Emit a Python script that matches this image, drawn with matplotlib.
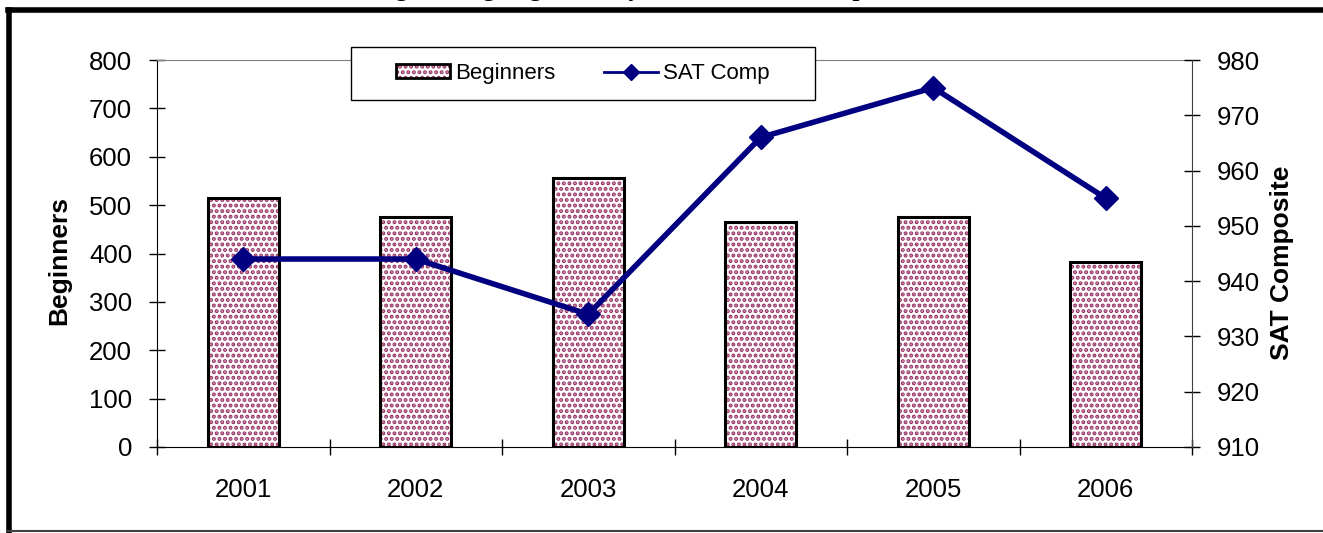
import matplotlib
matplotlib.use("Agg")
import matplotlib.pyplot as plt
from matplotlib.lines import Line2D
from matplotlib.patches import Patch, Rectangle
from matplotlib.legend_handler import HandlerTuple
import numpy as np

years = ["2001", "2002", "2003", "2004", "2005", "2006"]
beginners = [514, 475, 556, 465, 475, 382]
sat_comp = [944, 944, 934, 966, 975, 955]

plt.rcParams["font.family"] = ["Liberation Sans", "DejaVu Sans"]
plt.rcParams["hatch.linewidth"] = 2.0

W, H = 1323, 533
fig = plt.figure(figsize=(W / 100, H / 100), dpi=100)
ax = fig.add_axes([157 / W, 1 - 447 / H, (1192 - 157) / W, (447 - 60) / H])

x = np.arange(len(years))
bar_w = 0.41
maroon = "#993366"
# dotted fill first, then the black outline on top
ax.bar(x, beginners, width=bar_w, color="white", edgecolor=maroon, hatch="...", linewidth=0, zorder=2)
ax.bar(x, beginners, width=bar_w, fill=False, edgecolor="black", linewidth=2.2, zorder=3)

ax.set_xlim(-0.5, len(years) - 0.5)
ax.set_ylim(0, 800)
ax.set_yticks(range(0, 801, 100))
ax.set_xticks(x)
ax.set_xticklabels(years)
ax.set_xticks(np.arange(-0.5, len(years), 1), minor=True)
ax.tick_params(axis="x", which="major", length=0, labelsize=18.5, pad=22)
ax.tick_params(axis="x", which="minor", direction="inout", length=12, width=1)
ax.tick_params(axis="y", direction="inout", length=12, width=1, labelsize=18.5, pad=12)
ax.set_ylabel("Beginners", fontsize=19, fontweight="bold")
ax.yaxis.set_label_coords((71 - 157) / 1035, 0.483)

for side in ["left", "bottom"]:
    ax.spines[side].set_color("black")
ax.spines["top"].set_color("#808080")
ax.spines["right"].set_visible(False)

ax2 = ax.twinx()
ax2.plot(x, sat_comp, color="#000080", linewidth=4, marker="D", markersize=12, zorder=4)
ax2.set_ylim(910, 980)
ax2.set_yticks(range(910, 981, 10))
ax2.tick_params(axis="y", direction="inout", length=12, width=1, labelsize=18.5, pad=12)
ax2.set_ylabel("SAT Composite", fontsize=19, fontweight="bold")
ax2.yaxis.set_label_coords((1270 - 157) / 1035, 0.475)
ax2.spines["top"].set_visible(False)
ax2.spines["left"].set_visible(False)
ax2.spines["bottom"].set_visible(False)
ax2.spines["right"].set_color("#404040")

# legend box drawn by hand (wide side margins), frameless legend inside
ax2.add_patch(Rectangle(((351 - 157) / 1035, (447 - 100) / 387), 464 / 1035, 53 / 387,
                        transform=ax2.transAxes, facecolor="white", edgecolor="black",
                        linewidth=1, clip_on=False, zorder=4.5))
bar_handle = (Patch(facecolor="white", edgecolor=maroon, hatch="...", linewidth=0),
              Patch(fill=False, edgecolor="black", linewidth=2))
line_handle = Line2D([0], [0], color="#000080", linewidth=2, marker="D", markersize=8)
leg = ax2.legend([bar_handle, line_handle], ["Beginners", "SAT Comp"], loc="center",
                 bbox_to_anchor=((583 - 157) / 1035, (447 - 73.5) / 387), borderaxespad=0,
                 handler_map={tuple: HandlerTuple(ndivide=1, pad=0)},
                 ncol=2, fontsize=16, frameon=False, borderpad=0,
                 columnspacing=2.2, handlelength=2.4, handletextpad=0.25,
                 handleheight=0.6)
leg.set_zorder(5)

# chart frame (partially cropped) and the cut-off title
fig.add_artist(Line2D([8 / W, 1], [1 - 10 / H, 1 - 10 / H], color="black", linewidth=4, transform=fig.transFigure))
fig.add_artist(Line2D([9 / W, 9 / W], [1 - 10 / H, 2 / H], color="black", linewidth=4, transform=fig.transFigure))
fig.add_artist(Line2D([8 / W, 1], [2 / H, 2 / H], color="#404040", linewidth=1.5, transform=fig.transFigure))
fig.text(640 / W, 1 + 4 / H, "Engineering Beginners by Year and SAT Composite",
         family="Liberation Serif", fontweight="bold", fontsize=18, ha="center", va="baseline")

fig.savefig("out.png", dpi=100)
